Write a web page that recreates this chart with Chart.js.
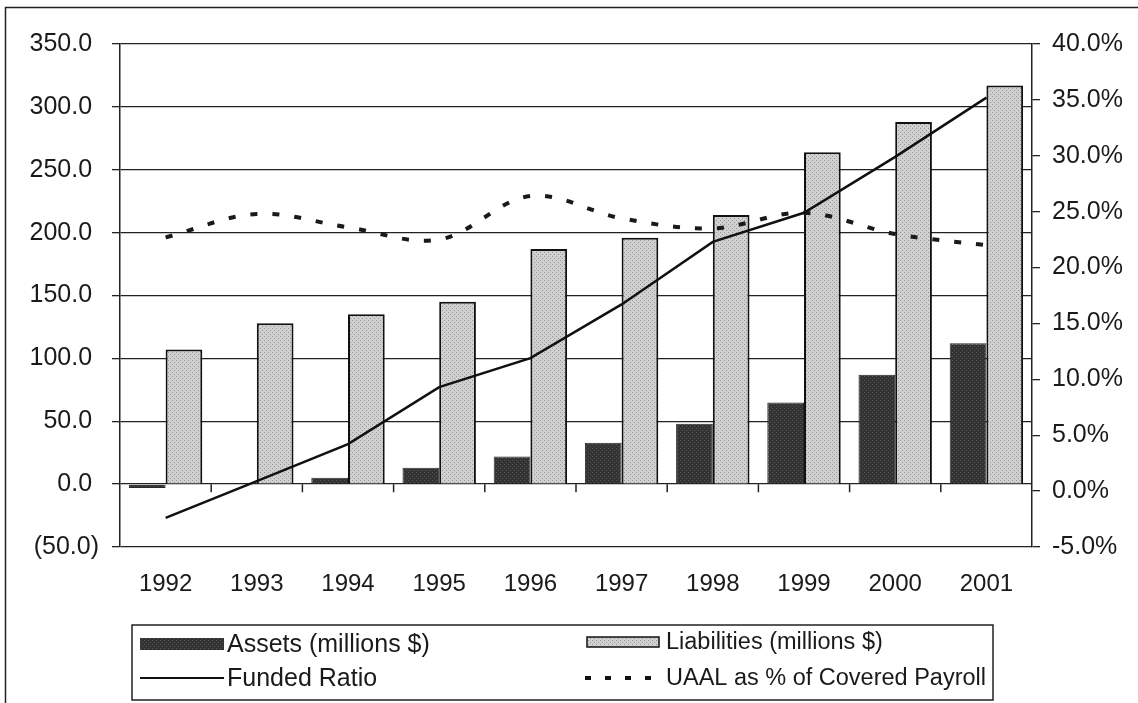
<!DOCTYPE html>
<html>
<head>
<meta charset="utf-8">
<script src="https://cdn.jsdelivr.net/npm/chart.js@4/dist/chart.umd.min.js"></script>
<style>
  html, body { margin: 0; padding: 0; background: #fff; }
  #wrap { width: 1138px; height: 703px; }
</style>
</head>
<body>
<div id="wrap"><canvas id="fundChart" width="1138" height="703"></canvas></div>
<script>
const years = ['1992', '1993', '1994', '1995', '1996', '1997', '1998', '1999', '2000', '2001'];
const assets = [-3, 0.8, 5, 13, 22, 33, 48, 65, 87, 112];
const liabilities = [107, 128, 135, 145, 187, 196, 214, 264, 288, 317];
const fundedRatio = [-2.4, 0.9, 4.2, 9.3, 11.9, 16.7, 22.3, 24.9, 29.9, 35.2];
const uaalPct = [22.7, 24.8, 23.6, 22.5, 26.4, 24.4, 23.5, 24.9, 23.0, 22.0];

const leftTicks = { min: -50, max: 350, step: 50 };
const rightTicks = { min: -5, max: 40, step: 5 };

const FONT = '"Liberation Sans", Arial, Helvetica, sans-serif';
Chart.defaults.font.family = FONT;
Chart.defaults.color = '#1a1a1a';

// stippled fills, like the scanned print
function stipple(bg, dot) {
    const c = document.createElement('canvas');
    c.width = 4; c.height = 4;
    const g = c.getContext('2d');
    g.fillStyle = bg;
    g.fillRect(0, 0, 4, 4);
    g.fillStyle = dot;
    g.fillRect(0, 0, 1, 1);
    g.fillRect(2, 2, 1, 1);
    return g.createPattern(c, 'repeat');
}
const darkFill = stipple('#333333', '#555555');
const lightFill = stipple('#d0d0d0', '#969696');

const frameAndLegend = {
    id: 'frameAndLegend',
    beforeDraw(chart) {
        const ctx = chart.ctx;
        ctx.save();
        ctx.strokeStyle = '#222';
        ctx.lineWidth = 1.5;
        ctx.beginPath();
        ctx.moveTo(5.5, 703);
        ctx.lineTo(5.5, 7.5);
        ctx.lineTo(1138, 7.5);
        ctx.stroke();
        ctx.restore();
    },
    afterDraw(chart) {
        const ctx = chart.ctx;
        const x = chart.scales.x;
        const y = chart.scales.y;
        const zeroY = y.getPixelForValue(0);
        ctx.save();
        // category tick marks on the zero line
        ctx.strokeStyle = '#222';
        ctx.lineWidth = 1.5;
        ctx.beginPath();
        for (let i = 1; i < years.length; i++) {
            const bx = (x.getPixelForTick(i - 1) + x.getPixelForTick(i)) / 2;
            ctx.moveTo(bx, zeroY);
            ctx.lineTo(bx, zeroY + 8);
        }
        ctx.stroke();

        // legend
        const ds = chart.data.datasets;
        ctx.lineWidth = 1.5;
        ctx.strokeStyle = '#222';
        ctx.strokeRect(132, 625, 861, 75);

        ctx.fillStyle = darkFill;
        ctx.fillRect(140, 638, 84, 12);

        ctx.fillStyle = lightFill;
        ctx.fillRect(587, 637, 72, 10);
        ctx.strokeStyle = '#111';
        ctx.lineWidth = 1.5;
        ctx.strokeRect(587, 637, 72, 10);

        ctx.strokeStyle = '#111';
        ctx.lineWidth = 2;
        ctx.beginPath();
        ctx.moveTo(140, 678);
        ctx.lineTo(224, 678);
        ctx.stroke();

        ctx.lineWidth = 4;
        ctx.setLineDash([6, 14]);
        ctx.beginPath();
        ctx.moveTo(585, 678);
        ctx.lineTo(664, 678);
        ctx.stroke();
        ctx.setLineDash([]);

        ctx.fillStyle = '#1a1a1a';
        ctx.textBaseline = 'middle';
        ctx.textAlign = 'left';
        ctx.font = '25px ' + FONT;
        ctx.fillText(ds[0].label, 227, 645);
        ctx.fillText(ds[2].label, 227, 679);
        ctx.font = '23.5px ' + FONT;
        ctx.fillText(ds[1].label, 666, 643);
        ctx.fillText(ds[3].label, 666, 679);
        ctx.restore();
    }
};

new Chart(document.getElementById('fundChart'), {
    type: 'bar',
    data: {
        labels: years,
        datasets: [{
            label: 'Assets (millions $)',
            data: assets,
            yAxisID: 'y',
            backgroundColor: darkFill,
            borderColor: '#2a2a2a',
            borderWidth: 1,
            categoryPercentage: 0.805,
            barPercentage: 1.0,
            order: 2
        }, {
            label: 'Liabilities (millions $)',
            data: liabilities,
            yAxisID: 'y',
            backgroundColor: lightFill,
            borderColor: '#111',
            borderWidth: 2,
            categoryPercentage: 0.805,
            barPercentage: 1.0,
            order: 2
        }, {
            type: 'line',
            label: 'Funded Ratio',
            data: fundedRatio,
            yAxisID: 'y1',
            borderColor: '#111',
            borderWidth: 2.5,
            pointRadius: 0,
            tension: 0,
            fill: false,
            order: 0
        }, {
            type: 'line',
            label: 'UAAL as % of Covered Payroll',
            data: uaalPct,
            yAxisID: 'y1',
            borderColor: '#1a1a1a',
            borderWidth: 4,
            borderDash: [7, 15],
            pointRadius: 0,
            tension: 0.35,
            fill: false,
            order: 1
        }]
    },
    options: {
        responsive: false,
        animation: false,
        layout: { padding: { top: 44, left: 0, right: 0, bottom: 0 } },
        plugins: {
            legend: { display: false },
            tooltip: { enabled: false }
        },
        scales: {
            x: {
                grid: { display: false, drawTicks: false },
                border: { display: false },
                ticks: { padding: 23, font: { size: 24 }, color: '#1a1a1a' },
                afterFit(scale) { scale.height = 156; }
            },
            y: {
                position: 'left',
                min: leftTicks.min,
                max: leftTicks.max,
                grid: { color: '#222', lineWidth: 1.3, tickLength: 8 },
                border: { display: true, color: '#222', width: 1.5 },
                ticks: {
                    stepSize: leftTicks.step,
                    padding: 13,
                    font: { size: 25 },
                    callback: v => v < 0 ? '(' + Math.abs(v).toFixed(1) + ')' : v.toFixed(1) + ' '
                },
                afterFit(scale) { scale.width = 120; }
            },
            y1: {
                position: 'right',
                min: rightTicks.min,
                max: rightTicks.max,
                grid: { drawOnChartArea: false, color: '#222', lineWidth: 1.3, tickLength: 8 },
                border: { display: true, color: '#222', width: 1.5 },
                ticks: {
                    stepSize: rightTicks.step,
                    padding: 12,
                    font: { size: 25 },
                    callback: v => v.toFixed(1) + '%'
                },
                afterFit(scale) { scale.width = 106; }
            }
        }
    },
    plugins: [frameAndLegend]
});
</script>
</body>
</html>
